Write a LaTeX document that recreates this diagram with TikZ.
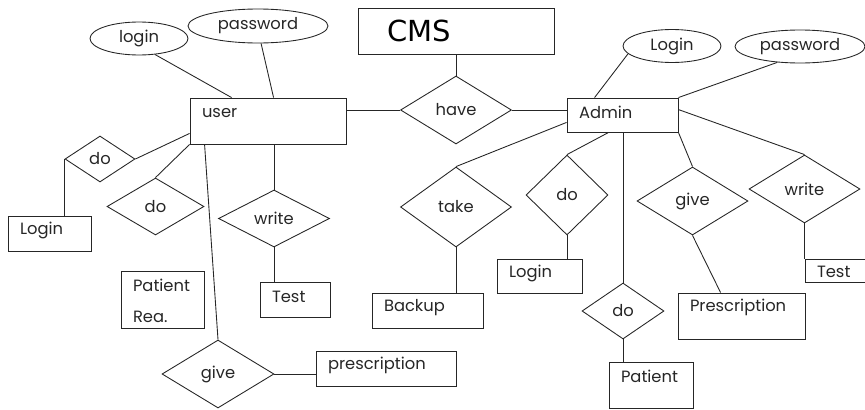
\documentclass[tikz,border=0pt]{standalone}
\usepackage{fontspec}
\setmainfont{Poppins}
\newfontfamily\cmsfont{DejaVu Sans}
\usetikzlibrary{shapes.geometric,positioning,calc}

\begin{document}
\begin{tikzpicture}[
    x=0.02cm, y=-0.02cm,
    font=\fontsize{9.3}{11}\selectfont,
    line width=0.5pt,
    entity/.style={rectangle, draw=black!85, inner sep=0pt},
    attr/.style={ellipse, draw=black!85, inner sep=0pt},
    rel/.style={diamond, draw=black!85, inner sep=0pt, aspect=1},
    etxt/.style={anchor=west, inner sep=0pt, xshift=0.24cm, yshift=-0.3cm, text=black!85},
    cmstxt/.style={anchor=west, inner sep=0pt, xshift=0.58cm, font=\cmsfont\fontsize{16.5}{18}\selectfont},
    link/.style={draw=black!85}
]

% Frame
\useasboundingbox (0,0) rectangle (865,409);
\clip (0,0) rectangle (865,409);

% User side
\node[entity, minimum width=3.12cm, minimum height=0.92cm, label={[etxt]north west:user}] (user) at (268,121) {};
\node[attr, minimum width=1.96cm, minimum height=0.66cm, text=black!85] (login) at (139,38.5) {login};
\node[attr, minimum width=2.8cm, minimum height=0.68cm, text=black!85] (user-pass) at (258,26) {password};
\node[rel, minimum width=1.4cm, minimum height=0.92cm, text=black!85] (do-login) at (100,159) {do};
\node[entity, minimum width=1.66cm, minimum height=0.7cm, label={[etxt]north west:Login}] (user-login) at (49.5,233.5) {};
\node[rel, minimum width=1.94cm, minimum height=1.14cm, text=black!85] (do-patient) at (155.5,206.5) {do};
\node[entity, minimum width=1.66cm, minimum height=1.14cm, label={[etxt]north west:Patient}, label={[etxt, yshift=-0.62cm]north west:Rea.}] (patient-rea) at (162.5,299.5) {};
\node[rel, minimum width=2.22cm, minimum height=1.14cm, text=black!85] (user-write) at (274,218.5) {write};
\node[entity, minimum width=1.4cm, minimum height=0.7cm, label={[etxt]north west:Test}] (user-test) at (295,299.5) {};
\node[rel, minimum width=2.24cm, minimum height=1.36cm, text=black!85] (user-give) at (218,374) {give};
\node[entity, minimum width=2.8cm, minimum height=0.7cm, label={[etxt]north west:prescription}] (user-presc) at (386,368.5) {};

% CMS
\node[rel, minimum width=2.22cm, minimum height=1.36cm, text=black!85] (have) at (456,110) {have};
\node[entity, minimum width=3.92cm, minimum height=0.92cm, above=0.42cm of have, label={[cmstxt]west:CMS}] (cms) {};

% Admin side
\node[entity, minimum width=2.22cm, minimum height=0.68cm, label={[etxt]north west:Admin}] (admin) at (622.5,115) {};
\node[attr, minimum width=1.96cm, minimum height=0.66cm, text=black!85] (admin-login) at (672,46) {Login};
\node[attr, minimum width=2.6cm, minimum height=0.66cm, text=black!85] (admin-pass) at (800,46.5) {password};
\node[rel, minimum width=2.22cm, minimum height=1.6cm, text=black!85] (take) at (456,207) {take};
\node[entity, minimum width=2.22cm, minimum height=0.7cm, label={[etxt]north west:Backup}] (backup) at (427.5,310.5) {};
\node[rel, minimum width=1.64cm, minimum height=1.6cm, text=black!85] (do-admin-login) at (567,195) {do};
\node[entity, minimum width=1.7cm, minimum height=0.68cm, label={[etxt]north west:Login}] (admin-login-box) at (539.5,276) {};
\node[rel, minimum width=1.64cm, minimum height=1.12cm, text=black!85] (do-admin-patient) at (623,311) {do};
\node[entity, minimum width=1.68cm, minimum height=0.92cm, label={[etxt]north west:Patient}] (patient) at (651,385) {};
\node[rel, minimum width=2.22cm, minimum height=1.36cm, text=black!85] (admin-give) at (692.5,201) {give};
\node[entity, minimum width=2.54cm, minimum height=0.92cm, label={[etxt]north west:Prescription}] (admin-presc) at (741.5,316) {};
\node[rel, minimum width=2.22cm, minimum height=1.36cm, text=black!85] (admin-write) at (804.5,189) {write};
\node[entity, minimum width=1.4cm, minimum height=0.46cm, label={[etxt, yshift=0.04cm]north west:Test}] (admin-test) at (840,270.5) {};

% Connections
\draw[link] (login.315) -- ($(user.north west)+(42,0)$);
\draw[link] (user-pass.280) -- ($(user.north west)+(84,0)$);
\draw[link] (have.west -| user.east) -- (have.west);
\draw[link] (cms) -- (have);
\draw[link] (have.east) -- (have.east -| admin.west);
\draw[link] (admin-login.190) -- ($(admin.north west)+(28,0)$);
\draw[link] (admin-pass.215) -- (admin.north east);
\draw[link] ($(user.south west)+(0,-11)$) -- (do-login.east);
\draw[link] (do-login.west) -- (do-login.west |- user-login.north);
\draw[link] (user.south west) -- (do-patient.north);
\draw[link] (user-write.north |- user.south) -- (user-write.north);
\draw[link] (user-write.south) -- (user-write.south |- user-test.north);
\draw[link] ($(user.south west)+(15,0)$) -- (user-give.north);
\draw[link] (user-give.east) -- (user-give.east -| user-presc.west);
\draw[link] ($(admin.south west)+(0,-10)$) -- (take.north);
\draw[link] (take.south) -- (take.south |- backup.north);
\draw[link] ($(admin.south west)+(42,0)$) -- (do-admin-login.north);
\draw[link] (do-admin-login.south) -- (do-admin-login.south |- admin-login-box.north);
\draw[link] (do-admin-patient.north |- admin.south) -- (do-admin-patient.north);
\draw[link] (do-admin-patient.south) -- (do-admin-patient.south |- patient.north);
\draw[link] (admin.south east) -- (admin-give.north);
\draw[link] (admin-give.south) -- ($(admin-presc.north west)+(43,0)$);
\draw[link] ($(admin.north east)+(0,12)$) -- (admin-write.north);
\draw[link] (admin-write.south) -- (admin-write.south |- admin-test.north);

\end{tikzpicture}
\end{document}
